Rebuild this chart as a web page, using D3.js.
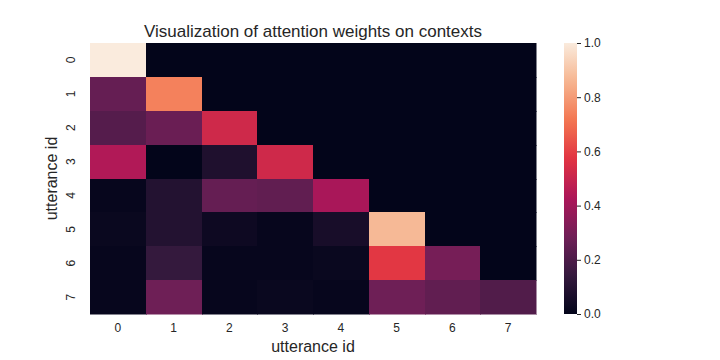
<!DOCTYPE html>
<html><head><meta charset="utf-8">
<script src="https://cdn.jsdelivr.net/npm/d3@7"></script>
<style>body{margin:0;background:#fff}svg{display:block}text{font-family:"Liberation Sans",Arial,sans-serif;fill:#262626}</style>
</head><body>
<svg id="c" width="720" height="360"></svg>
<script>
const rows = [0,1,2,3,4,5,6,7];
const cols = [0,1,2,3,4,5,6,7];
const weights = [
  [1.00,0,0,0,0,0,0,0],
  [0.26,0.74,0,0,0,0,0,0],
  [0.22,0.27,0.52,0,0,0,0,0],
  [0.44,0.00,0.08,0.52,0,0,0,0],
  [0.01,0.09,0.26,0.25,0.42,0,0,0],
  [0.02,0.09,0.03,0.01,0.06,0.87,0,0],
  [0.01,0.14,0.01,0.01,0.02,0.58,0.30,0],
  [0.01,0.28,0.01,0.02,0.01,0.28,0.25,0.21]
];
const cbTicks = [0.0,0.2,0.4,0.6,0.8,1.0];
const title = "Visualization of attention weights on contexts";
const xLabel = "utterance id", yLabel = "utterance id";

const rocketStops = ["#03051a","#35193e","#701f57","#ad1759","#e13342","#f37651","#f6b48f","#faebdd"];
const rocket = d3.scaleLinear().domain(rocketStops.map((d,i)=>i/(rocketStops.length-1))).range(rocketStops).interpolate(d3.interpolateRgb).clamp(true);
const color = t => rocket(t);

const svg = d3.select("#c");
const L=90,R=536,T=43,B=314;
const x = d3.scaleBand().domain(cols).range([L,R]);
const y = d3.scaleBand().domain(rows).range([T,B]);

const cells=[];
rows.forEach((r,i)=>cols.forEach((c,j)=>cells.push({r,c,v:weights[i][j]})));
svg.append("g").attr("shape-rendering","crispEdges").selectAll("rect").data(cells).join("rect")
  .attr("x",d=>Math.round(x(d.c))).attr("y",d=>Math.round(y(d.r)))
  .attr("width",d=>Math.round(x(d.c)+x.bandwidth())-Math.round(x(d.c)))
  .attr("height",d=>Math.round(y(d.r)+y.bandwidth())-Math.round(y(d.r)))
  .attr("fill",d=>color(d.v)).attr("stroke",d=>color(d.v)).attr("stroke-width",0.5);

svg.append("g").selectAll("text").data(cols).join("text")
  .attr("x",d=>x(d)+x.bandwidth()/2).attr("y",332)
  .attr("text-anchor","middle").attr("font-size",12).text(d=>d);
svg.append("g").selectAll("text").data(rows).join("text")
  .attr("transform",d=>`translate(75,${y(d)+y.bandwidth()/2}) rotate(-90)`)
  .attr("text-anchor","middle").attr("font-size",12).text(d=>d);

svg.append("text").attr("x",(L+R)/2).attr("y",352).attr("text-anchor","middle").attr("font-size",16).text(xLabel);
svg.append("text").attr("transform",`translate(57,${(T+B)/2}) rotate(-90)`).attr("text-anchor","middle").attr("font-size",16).text(yLabel);
svg.append("text").attr("x",(L+R)/2).attr("y",37).attr("text-anchor","middle").attr("font-size",17).text(title);

// colorbar
const cbX=564,cbW=13;
const cy = d3.scaleLinear().domain([0,1]).range([B,T]);
const defs = svg.append("defs");
const grad = defs.append("linearGradient").attr("id","g").attr("x1",0).attr("y1",1).attr("x2",0).attr("y2",0);
d3.range(0,1.0001,0.02).forEach(t=>grad.append("stop").attr("offset",t).attr("stop-color",color(t)));
svg.append("rect").attr("x",cbX).attr("y",T).attr("width",cbW).attr("height",B-T).attr("fill","url(#g)");
const ax = svg.append("g").attr("transform",`translate(${cbX+cbW},0)`)
  .call(d3.axisRight(cy).tickValues(cbTicks).tickFormat(d3.format(".1f")).tickSize(4).tickPadding(3));
ax.select(".domain").remove();
ax.selectAll("line").attr("stroke","#262626").attr("stroke-width",1);
ax.selectAll("text").attr("font-size",12).attr("fill","#262626").style("font-family","Liberation Sans, Arial, sans-serif");
</script>
</body></html>
